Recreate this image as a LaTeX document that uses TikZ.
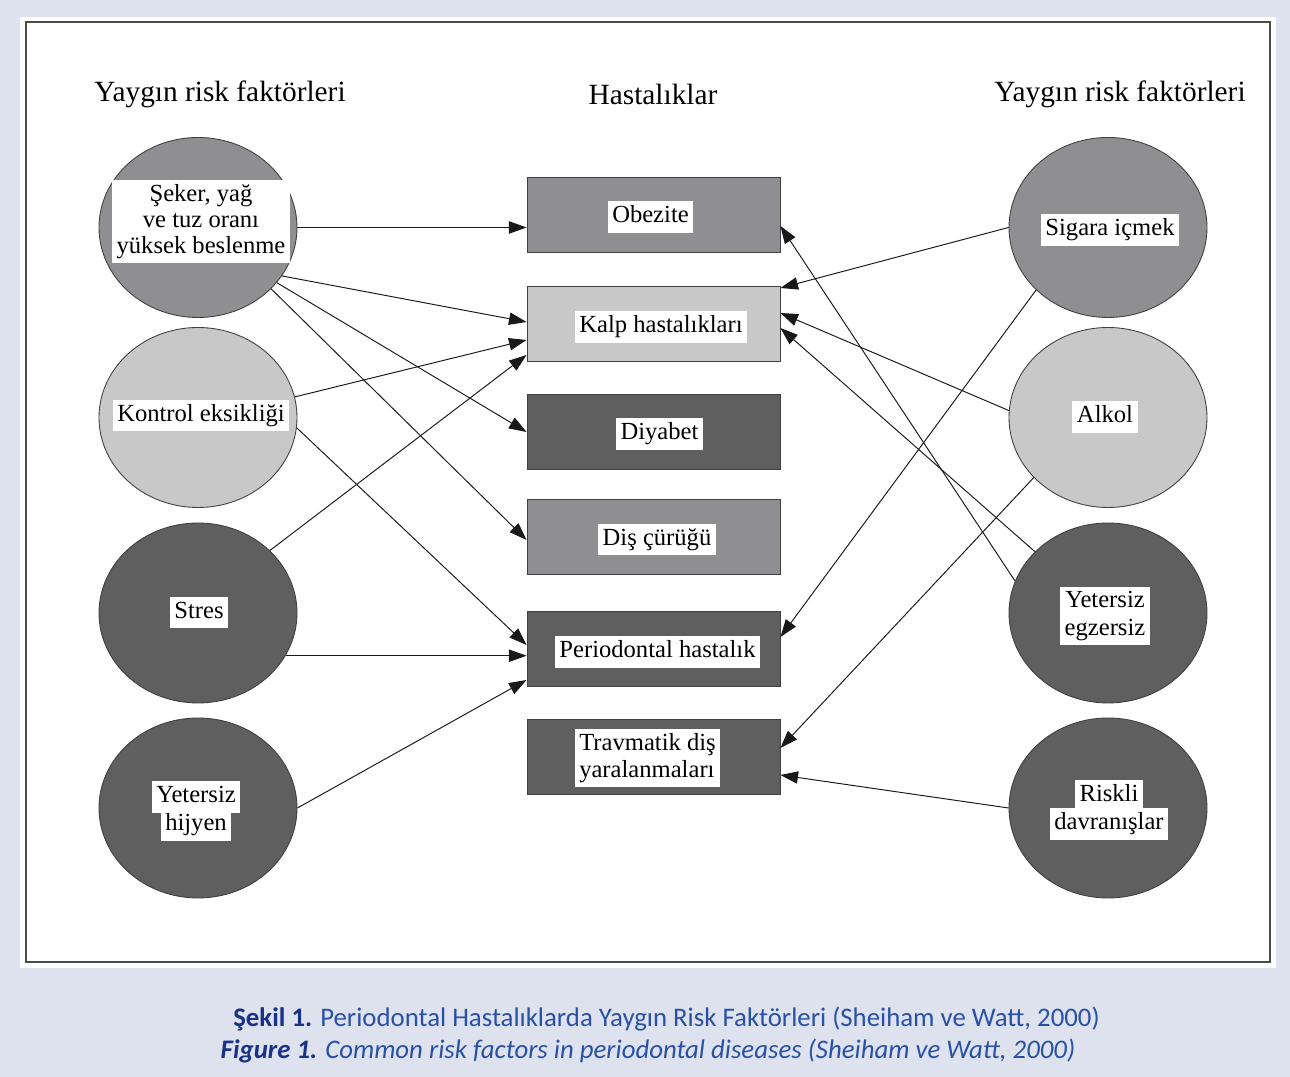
\documentclass[tikz,border=0pt]{standalone}
\usepackage{fontspec}
\setmainfont{Liberation Serif}
\newfontfamily\capfont{Carlito}
\usetikzlibrary{positioning,arrows.meta,shapes.geometric}
\definecolor{bgblue}{RGB}{222,226,239}
\definecolor{gLight}{RGB}{200,200,201}
\definecolor{gMid}{RGB}{143,143,145}
\definecolor{gDark}{RGB}{95,95,96}
\definecolor{capblue}{RGB}{40,80,165}
\definecolor{capnavy}{RGB}{24,50,135}
\begin{document}
\begin{tikzpicture}[
  risk/.style={draw=black!75, line width=0.5pt, ellipse, fill=#1, inner sep=0pt,
               minimum width=3.96cm, minimum height=3.6cm},
  dis/.style={draw=black!75, line width=0.5pt, fill=#1,
              minimum width=5.06cm, minimum height=1.5cm},
  tag/.style={fill=white, inner xsep=2.6pt, inner ysep=2.4pt, align=center,
              font=\fontsize{14}{15}\selectfont},
  tagl/.style={tag, text height=10pt, text depth=3.2pt},
  head/.style={font=\fontsize{16.7}{19}\selectfont},
  dep/.style={-{Triangle[length=10pt,width=7pt]}, line width=0.55pt, draw=black!90}
]
  %-- Cadre
  \path[use as bounding box, fill=bgblue] (0,0) rectangle (25.8,21.54);
  \fill[white] (0.40,2.18) rectangle (25.52,21.20);
  \draw[line width=1pt, black!70] (0.52,2.30) rectangle (25.40,21.10);

  %-- Başlıklar
  \node[head] (hleft)  at (4.40,  19.66) {Yaygın risk faktörleri};
  \node[head] (hmid)   at (13.06, 19.66) {Hastalıklar};
  \node[head] (hright) at (22.40, 19.66) {Yaygın risk faktörleri};

  %-- Sol risk faktörleri
  \node[risk=gMid]   (seker)   at (3.96, 16.99) {};
  \node[risk=gLight] (kontrol) at (3.96, 13.19) {};
  \node[risk=gDark]  (stres)   at (3.96, 9.28)  {};
  \node[risk=gDark]  (hijyen)  at (3.96, 5.38)  {};
  \node[tag]  (tseker)   at (4.02, 17.11) {Şeker, yağ\\ve tuz oranı\\yüksek beslenme};
  \node[tagl] (tkontrol) at (4.02, 13.23) {Kontrol eksikliği};
  \node[tagl] (tstres)   at (3.98, 9.29)  {Stres};
  \node[tagl] (thijyen1) at (3.92, 5.60)  {Yetersiz};
  \node[tagl, below=-2.5pt of thijyen1] (thijyen2) {hijyen};

  %-- Hastalıklar
  \node[dis=gMid]   (obezite) at (13.07, 17.24) {};
  \node[dis=gLight] (kalp)    at (13.07, 15.07) {};
  \node[dis=gDark]  (diyabet) at (13.07, 12.90) {};
  \node[dis=gMid]   (dis)     at (13.07, 10.80) {};
  \node[dis=gDark]  (perio)   at (13.07, 8.57)  {};
  \node[dis=gDark]  (travma)  at (13.07, 6.41)  {};
  \node[tagl] (tobezite) at (13.01, 17.20) {Obezite};
  \node[tagl] (tkalp)    at (13.22, 15.00) {Kalp hastalıkları};
  \node[tagl] (tdiyabet) at (13.19, 12.86) {Diyabet};
  \node[tagl] (tdis)     at (13.14, 10.75) {Diş çürüğü};
  \node[tagl] (tperio)   at (13.15, 8.50)  {Periodontal hastalık};
  \node[tag, align=left] (ttravma) at (12.95, 6.38) {Travmatik diş\\yaralanmaları};

  %-- Sağ risk faktörleri
  \node[risk=gMid]   (sigara)   at (22.16, 16.99) {};
  \node[risk=gLight] (alkol)    at (22.16, 13.19) {};
  \node[risk=gDark]  (egzersiz) at (22.16, 9.28)  {};
  \node[risk=gDark]  (riskli)   at (22.16, 5.38)  {};
  \node[tagl] (tsigara)   at (22.20, 16.94) {Sigara içmek};
  \node[tagl] (talkol)    at (22.10, 13.20) {Alkol};
  \node[tag, font=\fontsize{14}{16}\selectfont] (tegzersiz) at (22.10, 9.22) {Yetersiz\\egzersiz};
  \node[tagl] (triskli1)  at (22.18, 5.62)  {Riskli};
  \node[tagl, below=-2.5pt of triskli1] (triskli2) {davranışlar};

  %-- Oklar (sol)
  \draw[dep] (seker.east) -- (seker.east -| obezite.west);
  \draw[dep] (seker.-30)  -- ([yshift=0.03cm]kalp.west);
  \draw[dep] (seker.-35)  -- (diyabet.west);
  \draw[dep] (seker.-40)  -- ([yshift=-0.06cm]dis.west);
  \draw[dep] (kontrol.12) -- ([yshift=-0.33cm]kalp.west);
  \draw[dep] (kontrol.-6) -- ([yshift=0.07cm]perio.west);
  \draw[dep] (stres.41)   -- ([yshift=-0.63cm]kalp.west);
  \draw[dep] (stres.-26)  -- (stres.-26 -| perio.west);
  \draw[dep] (hijyen.east) -- ([yshift=-0.63cm]perio.west);

  %-- Oklar (sağ)
  \draw[dep] (sigara.west)    -- ([yshift=0.71cm]kalp.east);
  \draw[dep] (sigara.-139)    -- ([yshift=0.23cm]perio.east);
  \draw[dep] (alkol.176)      -- ([yshift=0.21cm]kalp.east);
  \draw[dep] (alkol.-141)     -- ([yshift=0.17cm]travma.east);
  \draw[dep] (egzersiz.161)   -- ([yshift=-0.22cm]obezite.east);
  \draw[dep] (egzersiz.140)   -- ([yshift=-0.09cm]kalp.east);
  \draw[dep] (riskli.west)    -- ([yshift=-0.37cm]travma.east);

  %-- Altyazı
  \node[font=\capfont\fontsize{15.25}{18}\selectfont, text=capblue] (cap1) at (13.33, 1.16)
    {\textbf{\color{capnavy}Şekil 1.} Periodontal Hastalıklarda Yaygın Risk Faktörleri (Sheiham ve Watt, 2000)};
  \node[font=\capfont\fontsize{15.25}{18}\selectfont\itshape, text=capblue] (cap2) at (12.96, 0.52)
    {\textbf{\color{capnavy}Figure 1.} Common risk factors in periodontal diseases (Sheiham ve Watt, 2000)};
\end{tikzpicture}
\end{document}
